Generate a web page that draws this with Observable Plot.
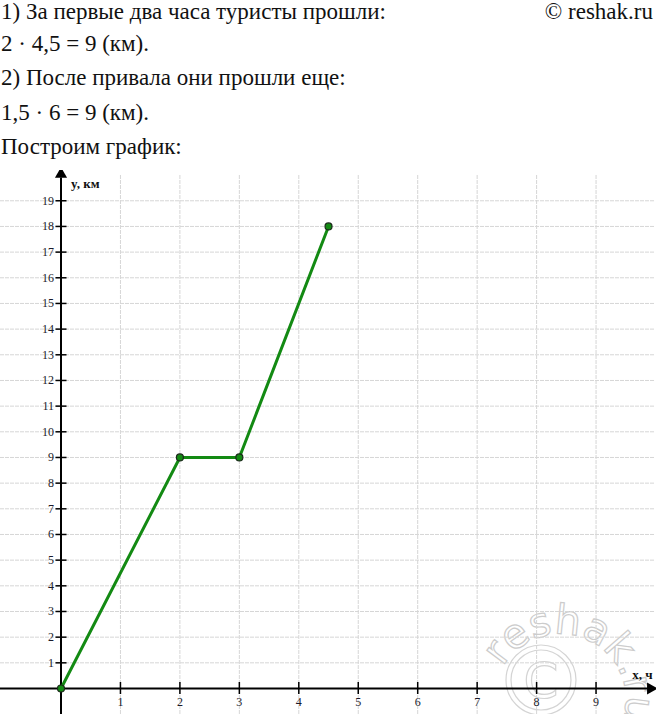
<!DOCTYPE html>
<html>
<head>
<meta charset="utf-8">
<script src="https://cdn.jsdelivr.net/npm/d3@7"></script>
<script src="https://cdn.jsdelivr.net/npm/@observablehq/plot@0.6"></script>
<style>
  html, body { margin: 0; padding: 0; background: #fff; }
  #page { position: relative; width: 656px; height: 714px; overflow: hidden; color: #111; }
  .line { position: absolute; left: 1px; font-family: 'Liberation Serif', 'Times New Roman', 'DejaVu Serif', serif; font-size: 23px; line-height: 18px; white-space: nowrap; }
  #chart { position: absolute; left: 0; top: 170px; }
</style>
</head>
<body>
<div id="page">
  <div class="line" style="top:3px">1) За первые два часа туристы прошли:</div>
  <div class="line" style="top:3px; left:auto; right:3px">© reshak.ru</div>
  <div class="line" style="top:35px">2 · 4,5 = 9 (км).</div>
  <div class="line" style="top:69px">2) После привала они прошли еще:</div>
  <div class="line" style="top:104px">1,5 · 6 = 9 (км).</div>
  <div class="line" style="top:138px">Построим график:</div>
  <div id="chart"></div>
</div>
<script>
// Data
const times = [0, 2, 3, 4.5];        // x, ч
const distances = [0, 9, 9, 18];     // y, км
const xTicks = [1, 2, 3, 4, 5, 6, 7, 8, 9];
const yTicks = [1, 2, 3, 4, 5, 6, 7, 8, 9, 10, 11, 12, 13, 14, 15, 16, 17, 18, 19];
const xLabel = "x, ч";
const yLabel = "y, км";
const watermark = "reshak.ru";

const data = times.map((t, i) => ({t, d: distances[i]}));

const W = 656, H = 544;
const ox = 60.5, ux = 59.45;   // px of origin, px per unit
const oy = 518, uy = 25.67;
const xDomain = [-ox / ux, (W - ox) / ux];
const yDomain = [-(H - oy) / uy, oy / uy];
const xMin = xDomain[0], xMax = xDomain[1];
const yMin = yDomain[0];
const gridTop = (oy - 5) / uy;
const serif = "Liberation Serif, Times New Roman, DejaVu Serif, serif";
const green = "#138a13";

const chart = Plot.plot({
  width: W,
  height: H,
  marginTop: 0, marginRight: 0, marginBottom: 0, marginLeft: 0,
  x: {domain: xDomain, axis: null},
  y: {domain: yDomain, axis: null},
  style: {background: "transparent"},
  marks: [
    // grid
    Plot.ruleY(yTicks, {x1: xMin, x2: xMax - 0.02, stroke: "#d6d6d6", strokeWidth: 1, strokeDasharray: "4,1"}),
    Plot.ruleX(xTicks, {y1: yMin, y2: gridTop, stroke: "#d6d6d6", strokeWidth: 1, strokeDasharray: "4,1"}),
    // axes
    Plot.ruleY([0], {x1: xMin, x2: xMax - 0.12, stroke: "#000", strokeWidth: 2}),
    Plot.ruleX([0], {y1: yMin, y2: gridTop - 0.1, stroke: "#000", strokeWidth: 2}),
    Plot.dot([0], {x: 0, y: gridTop + 0.05, symbol: "triangle", r: 4.5, fill: "#000", stroke: "none"}),
    Plot.dot([0], {x: xMax - 0.1, y: 0, symbol: "triangle", r: 4.5, fill: "#000", stroke: "none", rotate: 90}),
    // ticks
    Plot.ruleY(yTicks, {x1: -5 / ux, x2: 6 / ux, stroke: "#000", strokeWidth: 1.5}),
    Plot.ruleX(xTicks, {y1: -6 / uy, y2: 6 / uy, stroke: "#000", strokeWidth: 1.5}),
    // tick labels
    Plot.text(yTicks, {x: 0, y: d => d, dx: -7, textAnchor: "end", fontSize: 12, fontFamily: serif, fill: "#1a1a2a", text: d => String(d)}),
    Plot.text(xTicks, {x: d => d, y: 0, dy: 14, textAnchor: "middle", fontSize: 12, fontFamily: serif, fill: "#1a1a2a", text: d => String(d)}),
    // data
    Plot.line(data, {x: "t", y: "d", stroke: green, strokeWidth: 3}),
    Plot.dot(data, {x: "t", y: "d", r: 3.5, fill: green, stroke: "#1a2a1a", strokeWidth: 1.2}),
    // axis labels
    Plot.text([yLabel], {x: 0, y: gridTop, dx: 10, dy: 8, textAnchor: "start", fontSize: 13, fontWeight: "bold", fontFamily: serif, fill: "#111"}),
    Plot.text([xLabel], {x: xMax, y: 0, dx: -4, dy: -14, textAnchor: "end", fontSize: 13, fontWeight: "bold", fontFamily: serif, fill: "#111"})
  ]
});

// watermark (decorative, light outline) drawn into the plot's svg, under the data
const svg = d3.select(chart);
const wm = svg.insert("g", ":first-child").attr("pointer-events", "none").attr("text-anchor", "start");
const cx = 560, cy = 530, r = 66;
const pt = a => [cx + r * Math.cos(a * Math.PI / 180), cy + r * Math.sin(a * Math.PI / 180)];
const p1 = pt(-150), pm = pt(-60), p2 = pt(45);
wm.append("path").attr("id", "wmArc").attr("fill", "none")
  .attr("d", `M${p1[0]},${p1[1]} A${r},${r} 0 0 1 ${pm[0]},${pm[1]} A${r},${r} 0 0 1 ${p2[0]},${p2[1]}`);
wm.append("text")
  .attr("text-anchor", "start")
  .attr("font-family", "DejaVu Sans, sans-serif").attr("font-size", 41)
  .attr("fill", "none").attr("stroke", "#cccccc").attr("stroke-width", 1.2)
  .append("textPath").attr("href", "#wmArc").attr("startOffset", 0).text(watermark);
wm.append("circle").attr("cx", 541).attr("cy", 510).attr("r", 35).attr("fill", "none").attr("stroke", "#d4d4d4").attr("stroke-width", 1.2);
wm.append("circle").attr("cx", 541).attr("cy", 510).attr("r", 30).attr("fill", "none").attr("stroke", "#d4d4d4").attr("stroke-width", 1.2);
wm.append("text").attr("x", 541).attr("y", 510).attr("dy", "0.36em").attr("text-anchor", "middle")
  .attr("font-family", "DejaVu Sans, sans-serif").attr("font-size", 50)
  .attr("fill", "none").attr("stroke", "#d4d4d4").attr("stroke-width", 1.2).text("C");

document.getElementById("chart").appendChild(chart);
</script>
</body>
</html>
